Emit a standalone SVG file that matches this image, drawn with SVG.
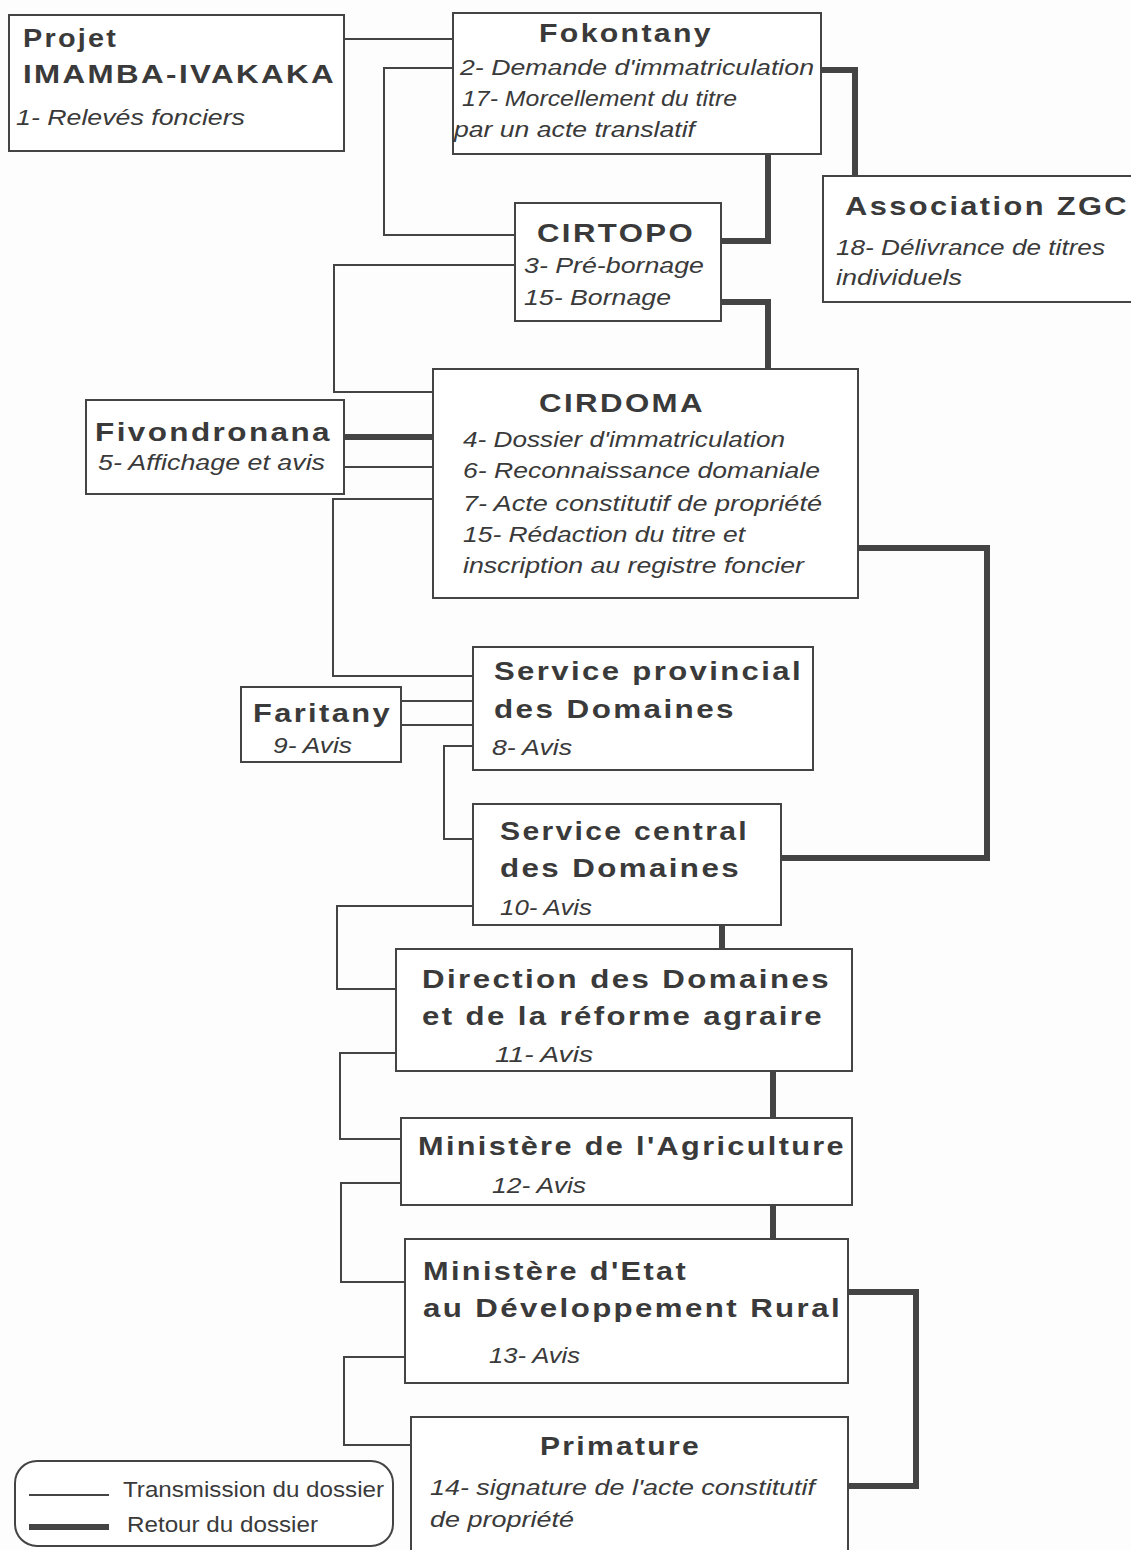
<svg xmlns="http://www.w3.org/2000/svg" width="1131" height="1550" viewBox="0 0 1131 1550">
<style>
  .box { fill: #ffffff; stroke: #444; stroke-width: 2; }
  .thin { fill: none; stroke: #444; stroke-width: 2; }
  .thick { fill: none; stroke: #444; stroke-width: 6; }
  .t { font-family: "Liberation Sans", Arial, sans-serif; font-weight: bold; font-size: 26px; letter-spacing: 2px; fill: #3a3a3a; }
  .i { font-family: "Liberation Sans", Arial, sans-serif; font-style: italic; font-size: 22px; fill: #3a3a3a; }
  .l { font-family: "Liberation Sans", Arial, sans-serif; font-size: 22px; fill: #3a3a3a; }
</style>
<rect x="0" y="0" width="1131" height="1550" fill="#fdfdfd"/>

<g id="connectors">
  <path class="thin" d="M344,39 H453"/>
  <path class="thin" d="M453,68 H384 V235 H515"/>
  <path class="thin" d="M515,265 H334 V392 H433"/>
  <path class="thin" d="M344,467 H433"/>
  <path class="thin" d="M433,499 H333 V676 H473"/>
  <path class="thin" d="M401,701 H473"/>
  <path class="thin" d="M401,725 H473"/>
  <path class="thin" d="M473,746 H444 V839 H473"/>
  <path class="thin" d="M473,906 H337 V989 H396"/>
  <path class="thin" d="M396,1053 H340 V1139 H401"/>
  <path class="thin" d="M401,1183 H341 V1282 H405"/>
  <path class="thin" d="M405,1357 H344 V1445 H411"/>

  <path class="thick" d="M344,437 H433"/>
  <path class="thick" d="M821,70 H855 V176"/>
  <path class="thick" d="M768,154 V241 H721"/>
  <path class="thick" d="M721,302 H768 V369"/>
  <path class="thick" d="M858,548 H987 V858 H781"/>
  <path class="thick" d="M722,925 V949"/>
  <path class="thick" d="M773,1071 V1118"/>
  <path class="thick" d="M773,1205 V1239"/>
  <path class="thick" d="M848,1292 H916 V1486 H848"/>
</g>

<g id="projet">
  <rect class="box" x="9" y="15" width="335" height="136"/>
  <text class="t" x="23" y="47" textLength="95" lengthAdjust="spacingAndGlyphs">Projet</text>
  <text class="t" x="23" y="83" textLength="313" lengthAdjust="spacingAndGlyphs">IMAMBA-IVAKAKA</text>
  <text class="i" x="16" y="125" textLength="229" lengthAdjust="spacingAndGlyphs">1- Relevés fonciers</text>
</g>

<g id="fokontany">
  <rect class="box" x="453" y="13" width="368" height="141"/>
  <text class="t" x="539" y="42" textLength="174" lengthAdjust="spacingAndGlyphs">Fokontany</text>
  <text class="i" x="460" y="75" textLength="354" lengthAdjust="spacingAndGlyphs">2-  Demande d'immatriculation</text>
  <text class="i" x="462" y="106" textLength="275" lengthAdjust="spacingAndGlyphs">17- Morcellement du titre</text>
  <text class="i" x="454" y="137" textLength="241" lengthAdjust="spacingAndGlyphs">par un acte  translatif</text>
</g>

<g id="association">
  <rect class="box" x="823" y="176" width="320" height="126"/>
  <text class="t" x="845" y="215" textLength="284" lengthAdjust="spacingAndGlyphs">Association  ZGC</text>
  <text class="i" x="836" y="255" textLength="269" lengthAdjust="spacingAndGlyphs">18- Délivrance de titres</text>
  <text class="i" x="836" y="285" textLength="126" lengthAdjust="spacingAndGlyphs">individuels</text>
</g>

<g id="cirtopo">
  <rect class="box" x="515" y="203" width="206" height="118"/>
  <text class="t" x="537" y="242" textLength="158" lengthAdjust="spacingAndGlyphs">CIRTOPO</text>
  <text class="i" x="524" y="273" textLength="180" lengthAdjust="spacingAndGlyphs">3- Pré-bornage</text>
  <text class="i" x="524" y="305" textLength="147" lengthAdjust="spacingAndGlyphs">15- Bornage</text>
</g>

<g id="cirdoma">
  <rect class="box" x="433" y="369" width="425" height="229"/>
  <text class="t" x="539" y="412" textLength="166" lengthAdjust="spacingAndGlyphs">CIRDOMA</text>
  <text class="i" x="463" y="447" textLength="322" lengthAdjust="spacingAndGlyphs">4- Dossier d'immatriculation</text>
  <text class="i" x="463" y="478" textLength="357" lengthAdjust="spacingAndGlyphs">6- Reconnaissance domaniale</text>
  <text class="i" x="463" y="511" textLength="359" lengthAdjust="spacingAndGlyphs">7- Acte constitutif de propriété</text>
  <text class="i" x="463" y="542" textLength="282" lengthAdjust="spacingAndGlyphs">15- Rédaction du titre et</text>
  <text class="i" x="463" y="573" textLength="341" lengthAdjust="spacingAndGlyphs">inscription au registre foncier</text>
</g>

<g id="fivondronana">
  <rect class="box" x="86" y="400" width="258" height="94"/>
  <text class="t" x="95" y="441" textLength="237" lengthAdjust="spacingAndGlyphs">Fivondronana</text>
  <text class="i" x="98" y="470" textLength="227" lengthAdjust="spacingAndGlyphs">5- Affichage et avis</text>
</g>

<g id="service-provincial">
  <rect class="box" x="473" y="647" width="340" height="123"/>
  <text class="t" x="494" y="680" textLength="309" lengthAdjust="spacingAndGlyphs">Service  provincial</text>
  <text class="t" x="494" y="718" textLength="242" lengthAdjust="spacingAndGlyphs">des  Domaines</text>
  <text class="i" x="492" y="755" textLength="80" lengthAdjust="spacingAndGlyphs">8- Avis</text>
</g>

<g id="faritany">
  <rect class="box" x="241" y="687" width="160" height="75"/>
  <text class="t" x="253" y="722" textLength="139" lengthAdjust="spacingAndGlyphs">Faritany</text>
  <text class="i" x="273" y="753" textLength="79" lengthAdjust="spacingAndGlyphs">9- Avis</text>
</g>

<g id="service-central">
  <rect class="box" x="473" y="804" width="308" height="121"/>
  <text class="t" x="500" y="840" textLength="249" lengthAdjust="spacingAndGlyphs">Service  central</text>
  <text class="t" x="500" y="877" textLength="241" lengthAdjust="spacingAndGlyphs">des  Domaines</text>
  <text class="i" x="500" y="915" textLength="92" lengthAdjust="spacingAndGlyphs">10- Avis</text>
</g>

<g id="direction">
  <rect class="box" x="396" y="949" width="456" height="122"/>
  <text class="t" x="422" y="988" textLength="409" lengthAdjust="spacingAndGlyphs">Direction  des  Domaines</text>
  <text class="t" x="422" y="1025" textLength="402" lengthAdjust="spacingAndGlyphs">et  de  la  réforme  agraire</text>
  <text class="i" x="495" y="1062" textLength="98" lengthAdjust="spacingAndGlyphs">11-  Avis</text>
</g>

<g id="ministere-agriculture">
  <rect class="box" x="401" y="1118" width="451" height="87"/>
  <text class="t" x="418" y="1155" textLength="428" lengthAdjust="spacingAndGlyphs">Ministère  de  l'Agriculture</text>
  <text class="i" x="492" y="1193" textLength="94" lengthAdjust="spacingAndGlyphs">12- Avis</text>
</g>

<g id="ministere-etat">
  <rect class="box" x="405" y="1239" width="443" height="144"/>
  <text class="t" x="423" y="1280" textLength="265" lengthAdjust="spacingAndGlyphs">Ministère  d'Etat</text>
  <text class="t" x="423" y="1317" textLength="419" lengthAdjust="spacingAndGlyphs">au  Développement  Rural</text>
  <text class="i" x="489" y="1363" textLength="91" lengthAdjust="spacingAndGlyphs">13- Avis</text>
</g>

<g id="primature">
  <rect class="box" x="411" y="1417" width="437" height="150"/>
  <text class="t" x="540" y="1455" textLength="161" lengthAdjust="spacingAndGlyphs">Primature</text>
  <text class="i" x="430" y="1495" textLength="385" lengthAdjust="spacingAndGlyphs">14- signature de l'acte constitutif</text>
  <text class="i" x="430" y="1527" textLength="144" lengthAdjust="spacingAndGlyphs">de propriété</text>
</g>

<g id="legend">
  <rect class="box" x="15" y="1461" width="378" height="85" rx="22" ry="22"/>
  <line class="thin" x1="29" y1="1495" x2="109" y2="1495"/>
  <line class="thick" x1="29" y1="1527" x2="109" y2="1527"/>
  <text class="l" x="123" y="1497" textLength="261" lengthAdjust="spacingAndGlyphs">Transmission du dossier</text>
  <text class="l" x="127" y="1532" textLength="191" lengthAdjust="spacingAndGlyphs">Retour du dossier</text>
</g>
</svg>
